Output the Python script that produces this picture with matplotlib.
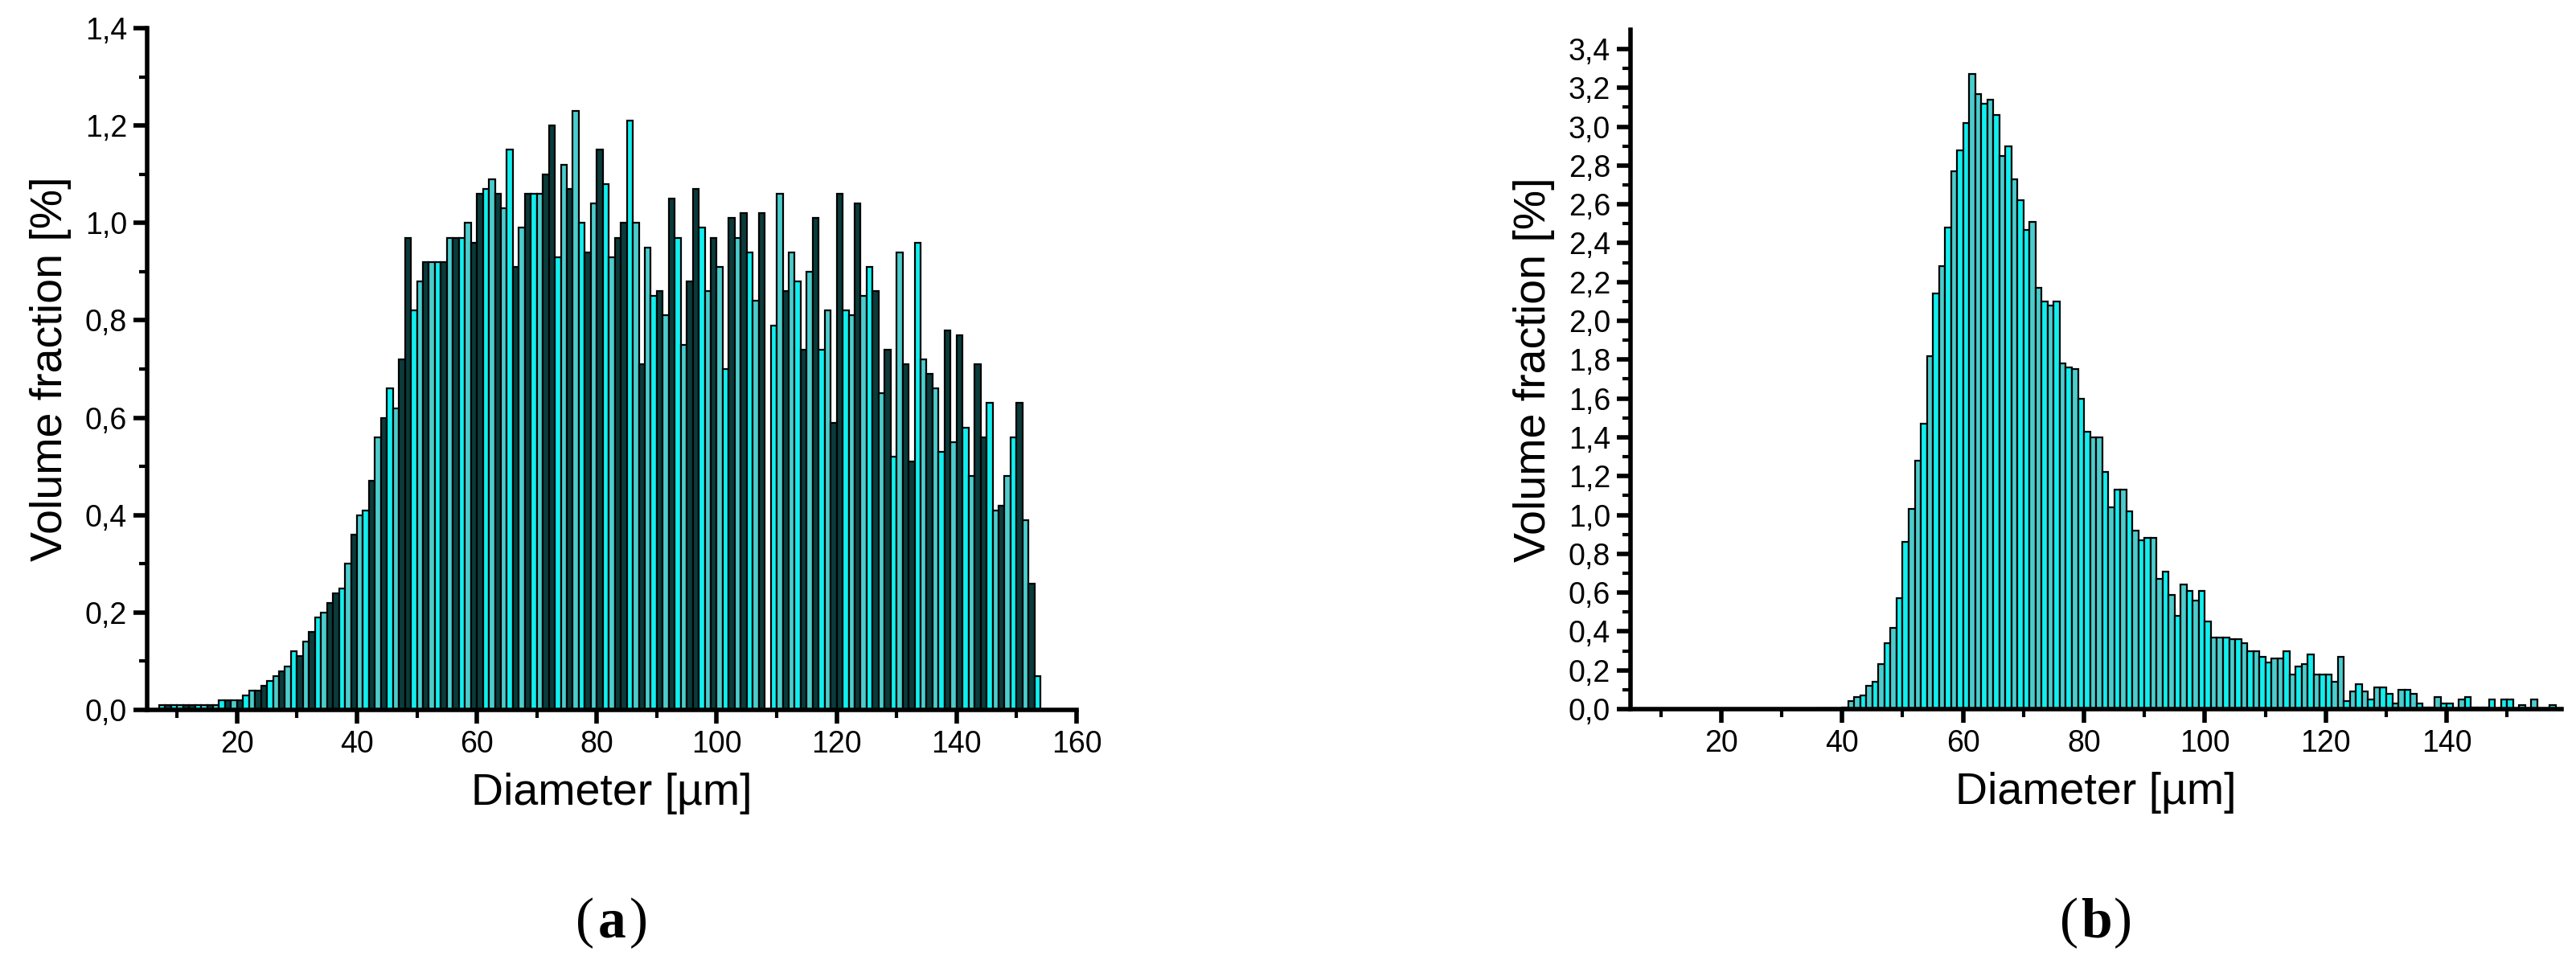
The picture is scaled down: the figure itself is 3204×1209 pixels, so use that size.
import numpy as np
import matplotlib.pyplot as plt

# volume fraction per 1 um bin, panel (a), bins starting at 7 um
start_a = 7
vol_a = [0.01, 0.01, 0.01, 0.01, 0.01, 0.01, 0.01, 0.01, 0.01, 0.01,
         0.02, 0.02, 0.02, 0.02, 0.03, 0.04, 0.04, 0.05, 0.06, 0.07,
         0.08, 0.09, 0.12, 0.11, 0.14, 0.16, 0.19, 0.20, 0.22, 0.24,
         0.25, 0.30, 0.36, 0.40, 0.41, 0.47, 0.56, 0.60, 0.66, 0.62,
         0.72, 0.97, 0.82, 0.88, 0.92, 0.92, 0.92, 0.92, 0.97, 0.97,
         0.97, 1.00, 0.96, 1.06, 1.07, 1.09, 1.06, 1.03, 1.15, 0.91,
         0.99, 1.06, 1.06, 1.06, 1.10, 1.20, 0.93, 1.12, 1.07, 1.23,
         1.00, 0.94, 1.04,
         1.15, 1.08, 0.93, 0.97, 1.00, 1.21, 1.00, 0.71, 0.95, 0.85,
         0.86, 0.81, 1.05, 0.97, 0.75, 0.88, 1.07, 0.99, 0.86, 0.97,
         0.91, 0.70, 1.01, 0.97, 1.02, 0.94, 0.84, 1.02, 0.00, 0.79,
         1.06, 0.86, 0.94, 0.88, 0.74, 0.90, 1.01, 0.74, 0.82, 0.59,
         1.06, 0.82, 0.81, 1.04, 0.85, 0.91, 0.86, 0.65, 0.74, 0.52,
         0.94, 0.71, 0.51, 0.96, 0.72, 0.69, 0.66, 0.53, 0.78, 0.55,
         0.77, 0.58, 0.48, 0.71, 0.56, 0.63, 0.41, 0.42, 0.48, 0.56,
         0.63, 0.39, 0.26, 0.07]

# panel (b), bins starting at 36 um
start_b = 36
vol_b = [0.005, 0.005, 0.005, 0.005, 0.01,
         0.04, 0.06, 0.07, 0.12, 0.14, 0.23, 0.34, 0.42, 0.57, 0.86,
         1.03, 1.28, 1.47, 1.82, 2.14, 2.28, 2.48, 2.77, 2.88, 3.02,
         3.27, 3.17, 3.12, 3.14, 3.06, 2.85, 2.90, 2.73, 2.62, 2.47,
         2.51, 2.17, 2.10, 2.08, 2.10, 1.78, 1.76, 1.75, 1.60, 1.43,
         1.40, 1.40, 1.22, 1.04, 1.13, 1.13, 1.02, 0.92, 0.87, 0.88,
         0.88, 0.67, 0.71, 0.59, 0.48, 0.64, 0.61, 0.56, 0.61, 0.45,
         0.37, 0.37, 0.37, 0.36, 0.36, 0.34, 0.30, 0.30, 0.27, 0.24,
         0.26, 0.26, 0.30, 0.18, 0.22, 0.23, 0.28, 0.18, 0.18, 0.18,
         0.14, 0.27, 0.04, 0.09, 0.13, 0.09, 0.05, 0.11, 0.11, 0.08,
         0.03, 0.10, 0.10, 0.08, 0.03, 0.01, 0.01, 0.06, 0.03, 0.03,
         0.00, 0.05, 0.06, 0.01, 0.01, 0.01, 0.05, 0.00, 0.05, 0.05,
         0.00, 0.02, 0.00, 0.05, 0.00, 0.00, 0.02]

cyan = '#12eeee'
teal = '#4ccccc'
dark = '#0b3b3b'
pattern_a = [teal, dark, cyan, teal, dark, dark, cyan, teal, dark, teal, cyan, dark]
pattern_b = [teal, cyan, teal, cyan, cyan, teal, teal, cyan, teal, cyan]

plt.rcParams['font.family'] = ['Liberation Sans', 'DejaVu Sans']

fig = plt.figure(figsize=(32.04, 12.09), dpi=100)
ax1 = fig.add_axes([0.0571, 0.2696, 0.3608, 0.7014])
ax2 = fig.add_axes([0.633, 0.2705, 0.3614, 0.699])


def draw(ax, start, vals, pattern):
    x = start + np.arange(len(vals))
    cols = [pattern[i % len(pattern)] for i in range(len(vals))]
    ax.bar(x, vals, width=1.0, align='edge', color=cols,
           edgecolor='black', linewidth=1.6)


draw(ax1, start_a, vol_a, pattern_a)
draw(ax2, start_b, vol_b, pattern_b)

ax1.set_xlim(5, 160)
ax1.set_ylim(0, 1.4)
ax1.set_xticks(np.arange(20, 161, 20))
ax1.set_xticks(np.arange(10, 161, 10), minor=True)
ax1.set_yticks(np.arange(0, 1.41, 0.2))
ax1.set_yticks(np.arange(0, 1.41, 0.1), minor=True)

ax2.set_xlim(5, 159)
ax2.set_ylim(0, 3.5)
ax2.set_xticks(np.arange(20, 141, 20))
ax2.set_xticks(np.arange(10, 151, 10), minor=True)
ax2.set_yticks(np.arange(0, 3.41, 0.2))
ax2.set_yticks(np.arange(0, 3.41, 0.1), minor=True)

for ax in [ax1, ax2]:
    for s in ['top', 'right']:
        ax.spines[s].set_visible(False)
    for s in ['left', 'bottom']:
        ax.spines[s].set_linewidth(4)
    ax.tick_params(which='major', direction='out', length=12, width=4,
                   labelsize=27, pad=6)
    ax.tick_params(which='minor', direction='out', length=7, width=3)
    ax.yaxis.set_major_formatter(plt.FuncFormatter(
        lambda v, p: f'{v:.1f}'.replace('.', ',')))
    ax.set_xlabel('Diameter [µm]', fontsize=40, labelpad=12)
    ax.set_ylabel('Volume fraction [%]', fontsize=40, labelpad=12)

# caption labels "(a)" / "(b)" with a bold letter
for ax, letter in [(ax1, 'a'), (ax2, 'b')]:
    cx = ax.get_position().x0 + ax.get_position().width / 2
    fig.text(cx - 0.0105, 0.05, '(', ha='center', va='center', fontsize=50,
             family='Liberation Serif')
    fig.text(cx, 0.05, letter, ha='center', va='center', fontsize=50,
             family='Liberation Serif', fontweight='bold')
    fig.text(cx + 0.0105, 0.05, ')', ha='center', va='center', fontsize=50,
             family='Liberation Serif')

fig.savefig('out.png', dpi=100)
